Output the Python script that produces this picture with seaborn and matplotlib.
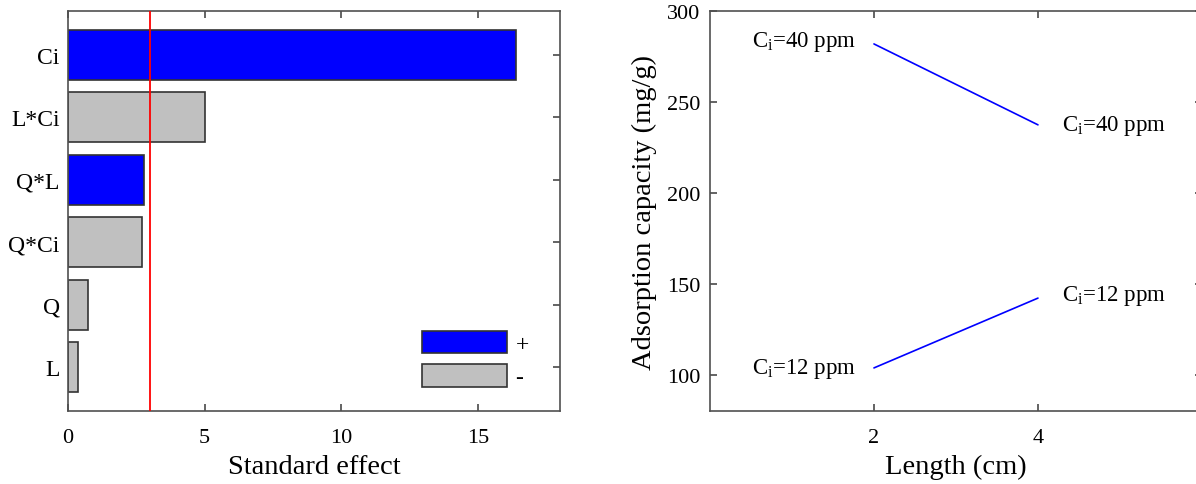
"""
Pareto chart of standardised effects and the Length x Ci interaction plot.
"""

import matplotlib

matplotlib.use('Agg')

import matplotlib.pyplot as plt
import pandas as pd
import seaborn as sns
from matplotlib.patches import Patch


# left panel: standardised effects
TERMS = ['Ci', 'L*Ci', 'Q*L', 'Q*Ci', 'Q', 'L']
EFFECTS = [16.38, 5.0, 2.79, 2.72, 0.74, 0.36]
SIGNS = ['+', '-', '+', '-', '-', '-']
T_CRIT = 2.99

# right panel: interaction plot
LENGTHS = [2, 4]
CAP_CI40 = [281.9, 237.4]
CAP_CI12 = [103.7, 142.1]

SIGN_COLORS = {'+': '#0000ff', '-': '#c0c0c0'}
EDGE = '#333333'
SPINE = '#505050'

FONT = 'Liberation Serif'

TICK_FS = 16
LABEL_FS = 20.5


def style_spines(ax) -> None:
    for s in ax.spines.values():
        s.set_color(SPINE)
        s.set_linewidth(1.2)


def main() -> None:
    sns.set_theme(style='white')
    plt.rcParams.update(
        {
            'font.family': [FONT, 'DejaVu Serif'],
            'mathtext.fontset': 'custom',
            'mathtext.rm': FONT,
            'mathtext.it': FONT + ':italic',
            'text.color': 'black',
            'axes.labelcolor': 'black',
            'xtick.color': SPINE,
            'ytick.color': SPINE,
            'xtick.labelcolor': 'black',
            'ytick.labelcolor': 'black',
        }
    )

    fig = plt.figure(figsize=(11.96, 4.85), dpi=100)
    ax1 = fig.add_axes([0.0569, 0.1505, 0.4114, 0.8247])
    ax2 = fig.add_axes([0.5936, 0.1505, 0.4114, 0.8247])

    # ---- effects
    effects = pd.DataFrame({'term': TERMS, 'effect': EFFECTS, 'sign': SIGNS})
    sns.barplot(
        data=effects,
        x='effect',
        y='term',
        hue='sign',
        hue_order=['+', '-'],
        palette=SIGN_COLORS,
        order=TERMS,
        orient='h',
        width=0.8,
        dodge=False,
        edgecolor=EDGE,
        linewidth=1.2,
        saturation=1,
        legend=False,
        ax=ax1,
    )
    ax1.axvline(T_CRIT, color='red', lw=1.3, zorder=3)
    ax1.set_xlim(0, 18)
    ax1.set_ylim(len(TERMS) - 0.3, -0.7)
    ax1.set_xticks([0, 5, 10, 15])
    ax1.set_xlabel('Standard effect', fontsize=LABEL_FS, labelpad=5)
    ax1.set_ylabel('')
    ax1.tick_params(axis='x', direction='in', top=True, bottom=True,
                    length=5, labelsize=TICK_FS, pad=12)
    ax1.tick_params(axis='y', direction='in', left=False, right=True,
                    length=5, labelsize=17, pad=6)
    style_spines(ax1)

    handles = [
        Patch(facecolor=SIGN_COLORS[s], edgecolor=EDGE, linewidth=1.2, label=s)
        for s in ['+', '-']
    ]
    ax1.legend(
        handles=handles,
        loc='lower left',
        bbox_to_anchor=(0.72, 0.057),
        frameon=False,
        fontsize=17,
        handlelength=3.6,
        handleheight=1.1,
        handletextpad=0.35,
        labelspacing=0.38,
        borderpad=0,
        borderaxespad=0,
    )

    # ---- interaction
    inter = pd.DataFrame(
        {
            'length': LENGTHS * 2,
            'capacity': CAP_CI40 + CAP_CI12,
            'ci': ['40'] * len(LENGTHS) + ['12'] * len(LENGTHS),
        }
    )
    sns.lineplot(
        data=inter,
        x='length',
        y='capacity',
        hue='ci',
        palette={'40': '#0000ff', '12': '#0000ff'},
        linewidth=1.2,
        legend=False,
        ax=ax2,
    )
    for ci, caps in (('40', CAP_CI40), ('12', CAP_CI12)):
        label = r'C$_\mathrm{i}$=' + ci + ' ppm'
        for x, y in zip(LENGTHS, caps):
            left = x == LENGTHS[0]
            dy = 2 if (ci == '40' and left) or (ci == '12' and not left) else 0
            ax2.annotate(
                label,
                (x, y),
                xytext=(-13 if left else 17, dy),
                textcoords='offset points',
                ha='right' if left else 'left',
                va='center',
                fontsize=16.5,
            )

    ax2.set_xlim(0, 6)
    ax2.set_ylim(80, 300)
    ax2.set_xticks(LENGTHS)
    ax2.set_yticks([100, 150, 200, 250, 300])
    ax2.set_xlabel('Length (cm)', fontsize=LABEL_FS, labelpad=5)
    ax2.set_ylabel('Adsorption capacity (mg/g)', fontsize=LABEL_FS, labelpad=7)
    ax2.tick_params(axis='x', direction='in', top=True, bottom=True,
                    length=5, labelsize=TICK_FS, pad=12)
    ax2.tick_params(axis='y', direction='in', left=True, right=True,
                    length=5, labelsize=TICK_FS, pad=7)
    style_spines(ax2)

    fig.savefig('out.png', dpi=100)


if __name__ == '__main__':
    main()
